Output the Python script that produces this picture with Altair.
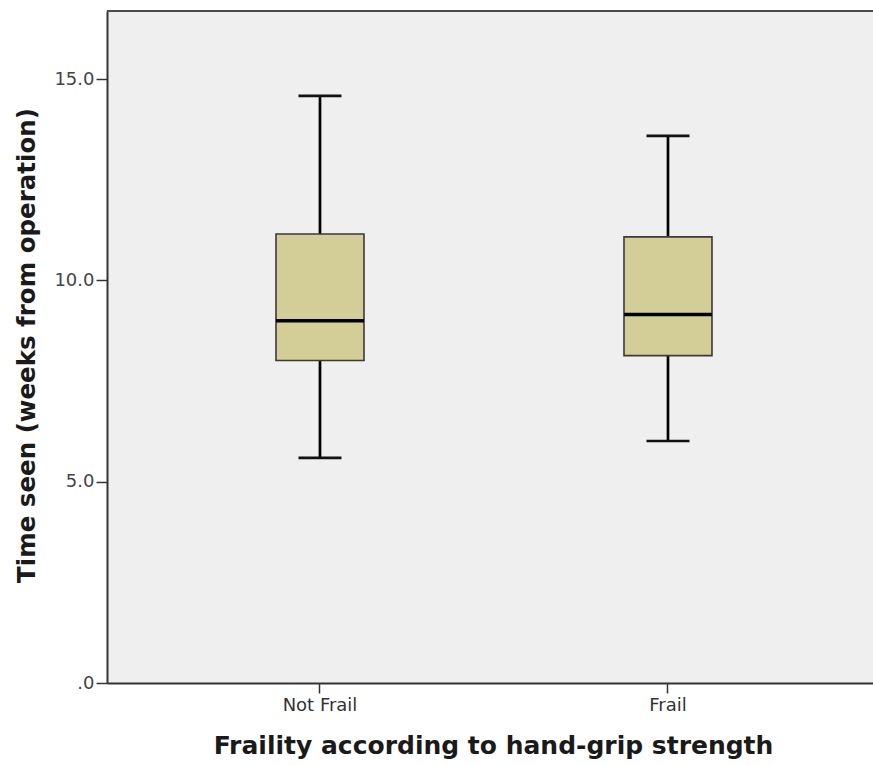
import altair as alt
import pandas as pd

# Box-plot summary per frailty group (weeks from operation)
groups = ["Not Frail", "Frail"]
whisker_low = [5.59, 6.01]
q1 = [8.01, 8.13]
median = [9.0, 9.15]
q3 = [11.15, 11.08]
whisker_high = [14.58, 13.59]

df = pd.DataFrame({
    "group": groups,
    "low": whisker_low,
    "q1": q1,
    "median": median,
    "q3": q3,
    "high": whisker_high,
})

W, H = 766, 672
FONT = "DejaVu Sans"

x_scale = alt.Scale(domain=groups, paddingInner=0, paddingOuter=0.1006, align=0.557)
y_scale = alt.Scale(domain=[0, 16.69], nice=False, zero=True)

x_enc = alt.X(
    "group:N",
    scale=x_scale,
    sort=groups,
    axis=alt.Axis(
        title="Fraility according to hand-grip strength",
        labelAngle=0,
        labelFont=FONT,
        labelFontSize=18,
        labelColor="#333333",
        labelPadding=3,
        tickSize=10,
        tickWidth=1.5,
        tickColor="#333333",
        domainColor="#333333",
        domainWidth=2,
        titleFont=FONT,
        titleFontSize=25,
        titleFontWeight="bold",
        titleColor="#1a1a1a",
        titleX=386,
        titleY=62,
        titleBaseline="middle",
        titleAlign="center",
    ),
)

y_axis = alt.Axis(
    title="Time seen (weeks from operation)",
    values=[0, 5, 10, 15],
    labelExpr="datum.value == 0 ? '.0' : format(datum.value, '.1f')",
    labelFont=FONT,
    labelFontSize=18,
    labelColor="#444444",
    labelPadding=2,
    tickSize=11,
    tickWidth=1.5,
    tickColor="#333333",
    domainColor="#333333",
    domainWidth=2,
    grid=False,
    titleFont=FONT,
    titleFontSize=24.5,
    titleFontWeight="bold",
    titleColor="#1a1a1a",
    titleX=-80,
    titleY=334,
    titleAngle=-90,
    titleBaseline="middle",
    titleAlign="center",
)

base = alt.Chart(df)

lower_whisker = base.mark_rule(color="#000000", strokeWidth=2.7).encode(
    x=x_enc,
    y=alt.Y("low:Q", scale=y_scale, axis=y_axis),
    y2="q1:Q",
)
upper_whisker = base.mark_rule(color="#000000", strokeWidth=2.7).encode(
    x=x_enc,
    y=alt.Y("q3:Q", scale=y_scale),
    y2="high:Q",
)
box = base.mark_bar(
    size=88, fill="#d3ce97", stroke="#3a3a3a", strokeWidth=1.6, opacity=1
).encode(
    x=x_enc,
    y=alt.Y("q1:Q", scale=y_scale),
    y2="q3:Q",
)
median_tick = base.mark_tick(size=88, thickness=3.5, color="#000000", opacity=1).encode(
    x=x_enc,
    y=alt.Y("median:Q", scale=y_scale),
)
low_cap = base.mark_tick(size=43, thickness=2.7, color="#111111", opacity=1).encode(
    x=x_enc,
    y=alt.Y("low:Q", scale=y_scale),
)
high_cap = base.mark_tick(size=43, thickness=2.7, color="#111111", opacity=1).encode(
    x=x_enc,
    y=alt.Y("high:Q", scale=y_scale),
)

# frame line along the top of the plotting area
top_border = alt.Chart(pd.DataFrame({"k": [0]})).mark_rule(
    color="#4a4a4a", strokeWidth=2
).encode(x=alt.value(0), x2=alt.value(W), y=alt.value(0))

chart = (
    alt.layer(lower_whisker, upper_whisker, box, median_tick, low_cap, high_cap, top_border)
    .properties(
        width=W,
        height=H,
        autosize=alt.AutoSizeParams(type="none"),
        padding={"left": 107, "top": 11, "right": 0, "bottom": 83},
        background="#ffffff",
    )
    .configure_view(fill="#efefef", strokeOpacity=0)
)

chart.save("out.html", embed_options={"renderer": "svg", "actions": False})
